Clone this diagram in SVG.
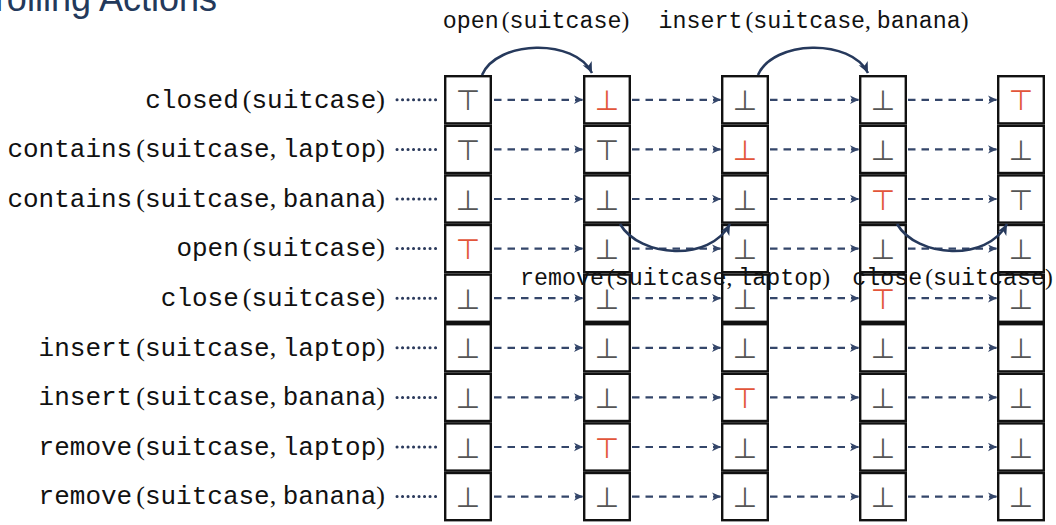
<svg xmlns="http://www.w3.org/2000/svg" xmlns:xlink="http://www.w3.org/1999/xlink" width="1056" height="525" viewBox="0 0 1056 525">
  <style>
    .title { font-family: "Liberation Sans", Arial, sans-serif; font-size: 36px; fill: #23395b; }
    .lbl { font-size: 26px; fill: #111; }
    .act { font-size: 23.3px; fill: #111; }
    .tt { font-family: "Liberation Mono", "Courier New", monospace; }
    .rm { font-family: "Liberation Serif", "Times New Roman", serif; }
    .cell { fill: #fff; stroke: #111; stroke-width: 2.4; }
    .v { font-family: "DejaVu Sans", sans-serif; font-size: 28px; text-anchor: middle; fill: #555; }
    .v.chg { fill: #e2553a; }
    .lead { stroke: #2b3a5c; stroke-width: 3; stroke-linecap: round; stroke-dasharray: 0.1 5.4; fill: none; }
    .step { stroke: #34466a; stroke-width: 2.2; stroke-dasharray: 7.5 6; fill: none; marker-end: url(#tip); }
    .apply { stroke: #26395c; stroke-width: 2.6; fill: none; marker-end: url(#tipBig); }
  </style>
  <defs>
    <marker id="tip" markerUnits="userSpaceOnUse" viewBox="-1 -5 11 10" refX="9" refY="0" markerWidth="11" markerHeight="10" orient="auto">
      <path d="M0,-4.2 L9,0 L0,4.2 L2.6,0 Z" fill="#34466a"/>
    </marker>
    <marker id="tipBig" markerUnits="userSpaceOnUse" viewBox="-1 -6 13 12" refX="11" refY="0" markerWidth="13" markerHeight="12" orient="auto">
      <path d="M0,-5 L11,0 L0,5 L3,0 Z" fill="#26395c"/>
    </marker>
  </defs>

  <rect width="1056" height="525" fill="#fff"/>

  <text class="title" x="217" y="11" text-anchor="end">Unrolling Actions</text>

  <!-- fluent labels -->
  <g id="fluent-labels" class="lbl">
    <text x="385" y="107.5" text-anchor="end"><tspan class="tt">closed</tspan><tspan class="rm" dx="4">(</tspan><tspan class="tt">suitcase</tspan><tspan class="rm">)</tspan></text>
    <text x="385" y="157.1" text-anchor="end"><tspan class="tt">contains</tspan><tspan class="rm" dx="4">(</tspan><tspan class="tt">suitcase</tspan><tspan class="rm">, </tspan><tspan class="tt">laptop</tspan><tspan class="rm">)</tspan></text>
    <text x="385" y="206.7" text-anchor="end"><tspan class="tt">contains</tspan><tspan class="rm" dx="4">(</tspan><tspan class="tt">suitcase</tspan><tspan class="rm">, </tspan><tspan class="tt">banana</tspan><tspan class="rm">)</tspan></text>
    <text x="385" y="256.3" text-anchor="end"><tspan class="tt">open</tspan><tspan class="rm" dx="4">(</tspan><tspan class="tt">suitcase</tspan><tspan class="rm">)</tspan></text>
    <text x="385" y="305.9" text-anchor="end"><tspan class="tt">close</tspan><tspan class="rm" dx="4">(</tspan><tspan class="tt">suitcase</tspan><tspan class="rm">)</tspan></text>
    <text x="385" y="355.5" text-anchor="end"><tspan class="tt">insert</tspan><tspan class="rm" dx="4">(</tspan><tspan class="tt">suitcase</tspan><tspan class="rm">, </tspan><tspan class="tt">laptop</tspan><tspan class="rm">)</tspan></text>
    <text x="385" y="405.1" text-anchor="end"><tspan class="tt">insert</tspan><tspan class="rm" dx="4">(</tspan><tspan class="tt">suitcase</tspan><tspan class="rm">, </tspan><tspan class="tt">banana</tspan><tspan class="rm">)</tspan></text>
    <text x="385" y="454.7" text-anchor="end"><tspan class="tt">remove</tspan><tspan class="rm" dx="4">(</tspan><tspan class="tt">suitcase</tspan><tspan class="rm">, </tspan><tspan class="tt">laptop</tspan><tspan class="rm">)</tspan></text>
    <text x="385" y="504.3" text-anchor="end"><tspan class="tt">remove</tspan><tspan class="rm" dx="4">(</tspan><tspan class="tt">suitcase</tspan><tspan class="rm">, </tspan><tspan class="tt">banana</tspan><tspan class="rm">)</tspan></text>
  </g>

  <!-- state 0 -->
  <g id="state-0" transform="translate(444,75)">
    <rect class="cell" x="1.2" y="1.2" width="45.6" height="47.2"/>
    <rect class="cell" x="1.2" y="50.8" width="45.6" height="47.2"/>
    <rect class="cell" x="1.2" y="100.4" width="45.6" height="47.2"/>
    <rect class="cell" x="1.2" y="150" width="45.6" height="47.2"/>
    <rect class="cell" x="1.2" y="199.6" width="45.6" height="47.2"/>
    <rect class="cell" x="1.2" y="249.2" width="45.6" height="47.2"/>
    <rect class="cell" x="1.2" y="298.8" width="45.6" height="47.2"/>
    <rect class="cell" x="1.2" y="348.4" width="45.6" height="47.2"/>
    <rect class="cell" x="1.2" y="398" width="45.6" height="47.2"/>
    <text class="v" x="24" y="35.3">⊤</text>
    <text class="v" x="24" y="84.9">⊤</text>
    <text class="v" x="24" y="134.5">⊥</text>
    <text class="v chg" x="24" y="184.1">⊤</text>
    <text class="v" x="24" y="233.7">⊥</text>
    <text class="v" x="24" y="283.3">⊥</text>
    <text class="v" x="24" y="332.9">⊥</text>
    <text class="v" x="24" y="382.5">⊥</text>
    <text class="v" x="24" y="432.1">⊥</text>
  </g>

  <!-- state 1 -->
  <g id="state-1" transform="translate(583,75)">
    <rect class="cell" x="1.2" y="1.2" width="45.6" height="47.2"/>
    <rect class="cell" x="1.2" y="50.8" width="45.6" height="47.2"/>
    <rect class="cell" x="1.2" y="100.4" width="45.6" height="47.2"/>
    <rect class="cell" x="1.2" y="150" width="45.6" height="47.2"/>
    <rect class="cell" x="1.2" y="199.6" width="45.6" height="47.2"/>
    <rect class="cell" x="1.2" y="249.2" width="45.6" height="47.2"/>
    <rect class="cell" x="1.2" y="298.8" width="45.6" height="47.2"/>
    <rect class="cell" x="1.2" y="348.4" width="45.6" height="47.2"/>
    <rect class="cell" x="1.2" y="398" width="45.6" height="47.2"/>
    <text class="v chg" x="24" y="35.3">⊥</text>
    <text class="v" x="24" y="84.9">⊤</text>
    <text class="v" x="24" y="134.5">⊥</text>
    <text class="v" x="24" y="184.1">⊥</text>
    <text class="v" x="24" y="233.7">⊥</text>
    <text class="v" x="24" y="283.3">⊥</text>
    <text class="v" x="24" y="332.9">⊥</text>
    <text class="v chg" x="24" y="382.5">⊤</text>
    <text class="v" x="24" y="432.1">⊥</text>
  </g>

  <!-- state 2 -->
  <g id="state-2" transform="translate(721,75)">
    <rect class="cell" x="1.2" y="1.2" width="45.6" height="47.2"/>
    <rect class="cell" x="1.2" y="50.8" width="45.6" height="47.2"/>
    <rect class="cell" x="1.2" y="100.4" width="45.6" height="47.2"/>
    <rect class="cell" x="1.2" y="150" width="45.6" height="47.2"/>
    <rect class="cell" x="1.2" y="199.6" width="45.6" height="47.2"/>
    <rect class="cell" x="1.2" y="249.2" width="45.6" height="47.2"/>
    <rect class="cell" x="1.2" y="298.8" width="45.6" height="47.2"/>
    <rect class="cell" x="1.2" y="348.4" width="45.6" height="47.2"/>
    <rect class="cell" x="1.2" y="398" width="45.6" height="47.2"/>
    <text class="v" x="24" y="35.3">⊥</text>
    <text class="v chg" x="24" y="84.9">⊥</text>
    <text class="v" x="24" y="134.5">⊥</text>
    <text class="v" x="24" y="184.1">⊥</text>
    <text class="v" x="24" y="233.7">⊥</text>
    <text class="v" x="24" y="283.3">⊥</text>
    <text class="v chg" x="24" y="332.9">⊤</text>
    <text class="v" x="24" y="382.5">⊥</text>
    <text class="v" x="24" y="432.1">⊥</text>
  </g>

  <!-- state 3 -->
  <g id="state-3" transform="translate(859,75)">
    <rect class="cell" x="1.2" y="1.2" width="45.6" height="47.2"/>
    <rect class="cell" x="1.2" y="50.8" width="45.6" height="47.2"/>
    <rect class="cell" x="1.2" y="100.4" width="45.6" height="47.2"/>
    <rect class="cell" x="1.2" y="150" width="45.6" height="47.2"/>
    <rect class="cell" x="1.2" y="199.6" width="45.6" height="47.2"/>
    <rect class="cell" x="1.2" y="249.2" width="45.6" height="47.2"/>
    <rect class="cell" x="1.2" y="298.8" width="45.6" height="47.2"/>
    <rect class="cell" x="1.2" y="348.4" width="45.6" height="47.2"/>
    <rect class="cell" x="1.2" y="398" width="45.6" height="47.2"/>
    <text class="v" x="24" y="35.3">⊥</text>
    <text class="v" x="24" y="84.9">⊥</text>
    <text class="v chg" x="24" y="134.5">⊤</text>
    <text class="v" x="24" y="184.1">⊥</text>
    <text class="v chg" x="24" y="233.7">⊤</text>
    <text class="v" x="24" y="283.3">⊥</text>
    <text class="v" x="24" y="332.9">⊥</text>
    <text class="v" x="24" y="382.5">⊥</text>
    <text class="v" x="24" y="432.1">⊥</text>
  </g>

  <!-- state 4 -->
  <g id="state-4" transform="translate(997,75)">
    <rect class="cell" x="1.2" y="1.2" width="45.6" height="47.2"/>
    <rect class="cell" x="1.2" y="50.8" width="45.6" height="47.2"/>
    <rect class="cell" x="1.2" y="100.4" width="45.6" height="47.2"/>
    <rect class="cell" x="1.2" y="150" width="45.6" height="47.2"/>
    <rect class="cell" x="1.2" y="199.6" width="45.6" height="47.2"/>
    <rect class="cell" x="1.2" y="249.2" width="45.6" height="47.2"/>
    <rect class="cell" x="1.2" y="298.8" width="45.6" height="47.2"/>
    <rect class="cell" x="1.2" y="348.4" width="45.6" height="47.2"/>
    <rect class="cell" x="1.2" y="398" width="45.6" height="47.2"/>
    <text class="v chg" x="24" y="35.3">⊤</text>
    <text class="v" x="24" y="84.9">⊥</text>
    <text class="v" x="24" y="134.5">⊤</text>
    <text class="v" x="24" y="184.1">⊥</text>
    <text class="v" x="24" y="233.7">⊥</text>
    <text class="v" x="24" y="283.3">⊥</text>
    <text class="v" x="24" y="332.9">⊥</text>
    <text class="v" x="24" y="382.5">⊥</text>
    <text class="v" x="24" y="432.1">⊥</text>
  </g>

  <g id="connectors">
    <!-- dotted leaders from each fluent to its first cell -->
    <path class="lead" d="M397,99.8H441 M397,149.4H441 M397,199H441 M397,248.6H441 M397,298.2H441 M397,347.8H441 M397,397.4H441 M397,447H441 M397,496.6H441"/>

    <!-- frame steps between consecutive states, one per fluent -->
    <path class="step" d="M494,99.8H583"/><path class="step" d="M632,99.8H721"/><path class="step" d="M770,99.8H859"/><path class="step" d="M908,99.8H997"/>
    <path class="step" d="M494,149.4H583"/><path class="step" d="M632,149.4H721"/><path class="step" d="M770,149.4H859"/><path class="step" d="M908,149.4H997"/>
    <path class="step" d="M494,199H583"/><path class="step" d="M632,199H721"/><path class="step" d="M770,199H859"/><path class="step" d="M908,199H997"/>
    <path class="step" d="M494,248.6H583"/><path class="step" d="M632,248.6H721"/><path class="step" d="M770,248.6H859"/><path class="step" d="M908,248.6H997"/>
    <path class="step" d="M494,298.2H583"/><path class="step" d="M632,298.2H721"/><path class="step" d="M770,298.2H859"/><path class="step" d="M908,298.2H997"/>
    <path class="step" d="M494,347.8H583"/><path class="step" d="M632,347.8H721"/><path class="step" d="M770,347.8H859"/><path class="step" d="M908,347.8H997"/>
    <path class="step" d="M494,397.4H583"/><path class="step" d="M632,397.4H721"/><path class="step" d="M770,397.4H859"/><path class="step" d="M908,397.4H997"/>
    <path class="step" d="M494,447H583"/><path class="step" d="M632,447H721"/><path class="step" d="M770,447H859"/><path class="step" d="M908,447H997"/>
    <path class="step" d="M494,496.6H583"/><path class="step" d="M632,496.6H721"/><path class="step" d="M770,496.6H859"/><path class="step" d="M908,496.6H997"/>

    <!-- action applications -->
    <path class="apply" d="M482,75 C497,40 575,38 592,73"/>
    <path class="apply" d="M758,75 C773,40 851,38 868,73"/>
    <path class="apply" d="M620,224 C640,258 710,262 730,224"/>
    <path class="apply" d="M897,224 C917,258 987,262 1007,224"/>
  </g>

  <!-- action labels -->
  <g id="action-labels" class="act">
    <text x="536" y="27.5" text-anchor="middle"><tspan class="tt">open</tspan><tspan class="rm" dx="3">(</tspan><tspan class="tt">suitcase</tspan><tspan class="rm">)</tspan></text>
    <text x="813.5" y="27.5" text-anchor="middle"><tspan class="tt">insert</tspan><tspan class="rm" dx="3">(</tspan><tspan class="tt">suitcase</tspan><tspan class="rm">, </tspan><tspan class="tt">banana</tspan><tspan class="rm">)</tspan></text>
    <text x="675" y="284.5" text-anchor="middle"><tspan class="tt">remove</tspan><tspan class="rm" dx="3">(</tspan><tspan class="tt">suitcase</tspan><tspan class="rm">, </tspan><tspan class="tt">laptop</tspan><tspan class="rm">)</tspan></text>
    <text x="952.5" y="284.5" text-anchor="middle"><tspan class="tt">close</tspan><tspan class="rm" dx="3">(</tspan><tspan class="tt">suitcase</tspan><tspan class="rm">)</tspan></text>
  </g>
</svg>
